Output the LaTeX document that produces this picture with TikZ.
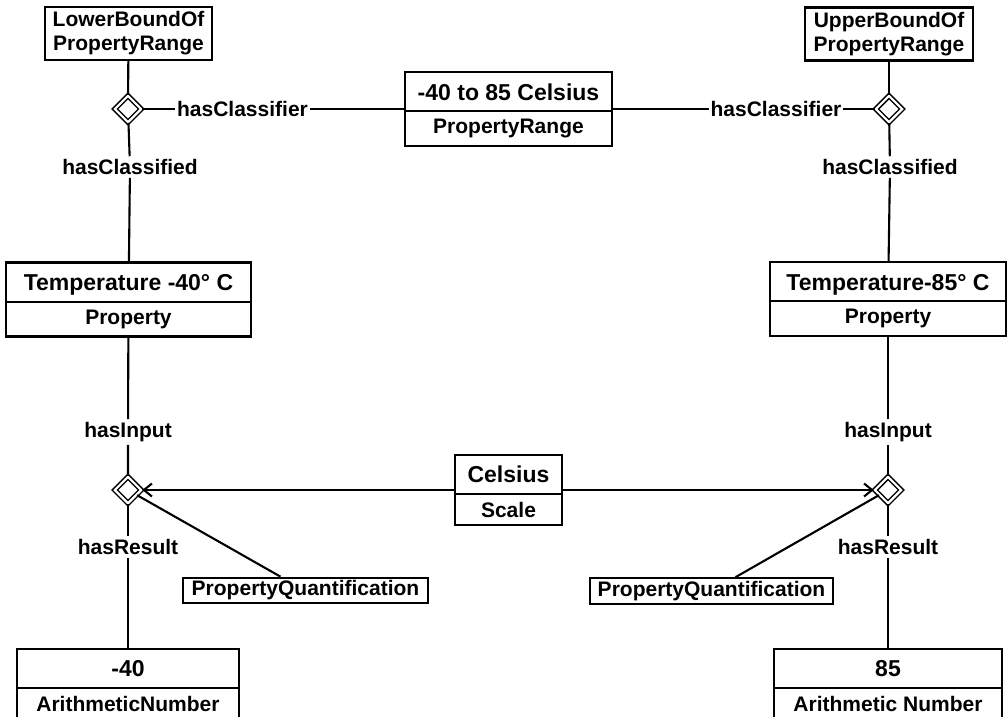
\documentclass[tikz,border=0pt]{standalone}
\usepackage{fontspec}
\setmainfont{Liberation Sans}
\usetikzlibrary{shapes.multipart, shapes.geometric, arrows.meta, positioning}

% larger type for the instance name in the upper part of a box
\newcommand{\objname}[1]{{\fontsize{23}{25}\selectfont #1}}

\begin{document}
\begin{tikzpicture}[
		x=1pt, y=-1pt,
		font=\fontsize{21}{24}\selectfont\bfseries,
		line width=2.1pt,
		% Style for object boxes: instance name on top, its type below
		cls/.style={
			draw, rectangle split, rectangle split parts=2,
			text height=20pt, text depth=3pt,
			inner ysep=7pt, inner xsep=4pt, align=center
		},
		% Style for single boxes
		plain/.style={draw, align=center, inner xsep=6pt, inner ysep=4pt},
		% Association diamond
		assoc/.style={diamond, draw, double, double distance=2.2pt, line width=1.5pt,
			minimum width=27pt, minimum height=27pt, inner sep=0pt},
		% Role names sitting on the connectors
		role/.style={inner xsep=1pt, inner ysep=2pt},
		% Connector styles
		arrow/.style={-{Straight Barb[length=8pt, width=13pt]}}
		]
		\useasboundingbox (0,0) rectangle (1007,716);
		
		% ==============================================================================
		% 1. PROPERTY RANGE AND ITS BOUNDS
		% ==============================================================================
		\node[plain, minimum width=167pt, minimum height=53pt] (lowB) at (128.5,33.5) {LowerBoundOf\\PropertyRange};
		\node[plain, minimum width=168pt, minimum height=53pt] (uppB) at (889,34) {UpperBoundOf\\PropertyRange};
		\node[cls, minimum width=207pt] (range) at (508.5,109) {\objname{-40 to 85 Celsius}\nodepart{two}PropertyRange};
		
		\node[assoc] (dLT) at (128,109) {};
		\node[assoc] (dRT) at (889,109) {};
		\node[role] (clsL) at (242.5,109) {hasClassifier};
		\node[role] (clsR) at (776,109) {hasClassifier};
		\node[role] (cldL) at (130,167) {hasClassified};
		\node[role] (cldR) at (890,167) {hasClassified};
		
		% ==============================================================================
		% 2. PROPERTIES
		% ==============================================================================
		\node[cls, minimum width=245pt] (tempL) at (128.5,299.5) {\objname{Temperature -40° C}\nodepart{two}Property};
		\node[cls, minimum width=236pt] (tempR) at (888,299) {\objname{Temperature-85° C}\nodepart{two}Property};
		
		% ==============================================================================
		% 3. QUANTIFICATION ON THE CELSIUS SCALE
		% ==============================================================================
		\node[cls, minimum width=107pt] (celsius) at (508.5,490) {\objname{Celsius}\nodepart{two}Scale};
		\node[assoc] (dLB) at (128,490) {};
		\node[assoc] (dRB) at (888,490) {};
		\node[role] (inL) at (128,432) {hasInput};
		\node[role] (inR) at (888,432) {hasInput};
		\node[role] (resL) at (128,547) {hasResult};
		\node[role] (resR) at (888,547) {hasResult};
		\node[plain, inner ysep=3pt, minimum width=245pt] (pqL) at (305.5,590.5) {PropertyQuantification};
		\node[plain, inner ysep=3pt, minimum width=243pt] (pqR) at (711.5,591) {PropertyQuantification};
		
		\node[cls, minimum width=222pt] (numL) at (128,684) {\objname{-40}\nodepart{two}ArithmeticNumber};
		\node[cls, minimum width=228pt] (numR) at (888,684) {\objname{85}\nodepart{two}Arithmetic Number};
		
		% ==============================================================================
		% 4. CONNECTORS
		% ==============================================================================
		\draw (lowB) -- (dLT);
		\draw (uppB) -- (dRT);
		\draw (dLT) -- (clsL) -- (range);
		\draw (dRT) -- (clsR) -- (range);
		\draw (dLT) -- (cldL) -- (tempL);
		\draw (dRT) -- (cldR) -- (tempR);
		
		\draw (tempL) -- (inL) -- (dLB);
		\draw (tempR) -- (inR) -- (dRB);
		\draw (dLB) -- (resL) -- (numL);
		\draw (dRB) -- (resR) -- (numR);
		\draw[arrow] (celsius) -- (dLB);
		\draw[arrow] (celsius) -- (dRB);
		\draw (dLB) -- ([xshift=-25pt]pqL.north);
		\draw (dRB) -- ([xshift=24pt]pqR.north);
	\end{tikzpicture}
\end{document}
